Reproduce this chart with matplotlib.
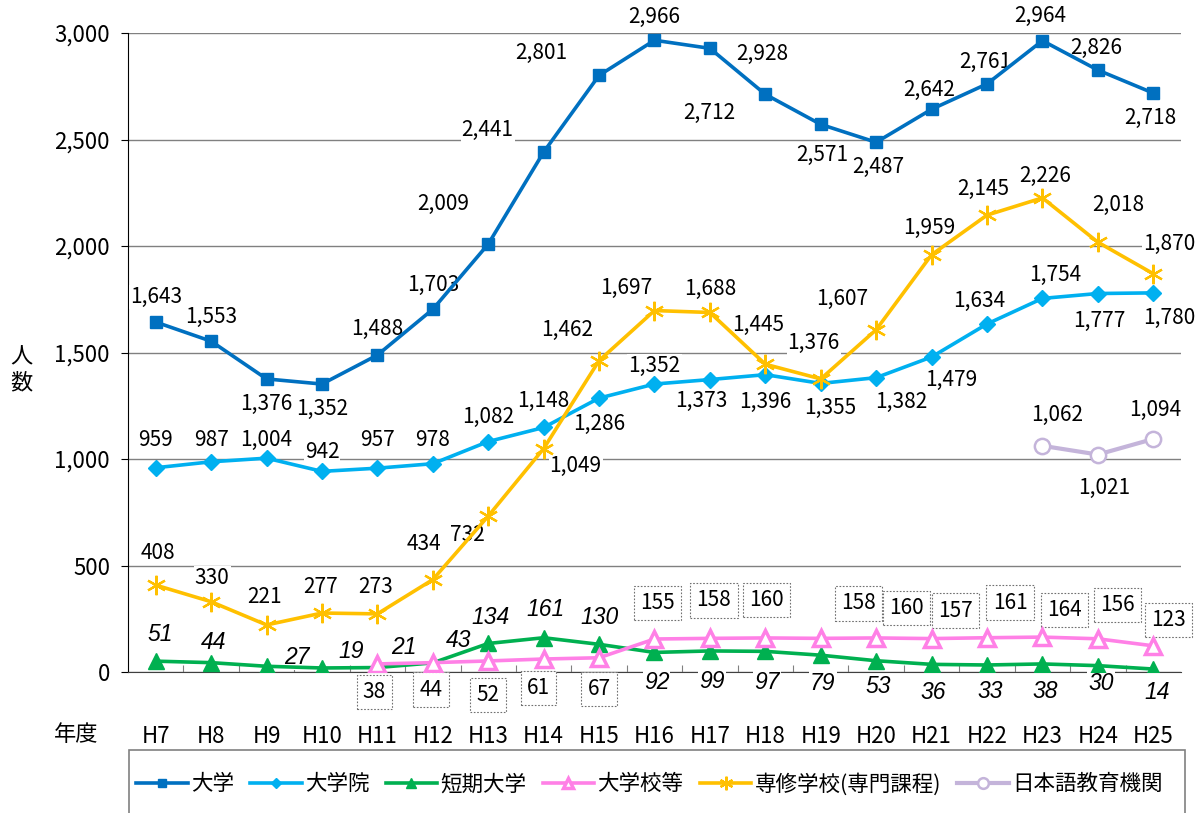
import matplotlib.pyplot as plt
from matplotlib.patches import Rectangle

plt.rcParams['font.family'] = ['Noto Sans CJK JP', 'DejaVu Sans']

years = ["H7", "H8", "H9", "H10", "H11", "H12", "H13", "H14", "H15", "H16",
         "H17", "H18", "H19", "H20", "H21", "H22", "H23", "H24", "H25"]

daigaku = [1643, 1553, 1376, 1352, 1488, 1703, 2009, 2441, 2801, 2966,
           2928, 2712, 2571, 2487, 2642, 2761, 2964, 2826, 2718]
daigakuin = [959, 987, 1004, 942, 957, 978, 1082, 1148, 1286, 1352,
             1373, 1396, 1355, 1382, 1479, 1634, 1754, 1777, 1780]
tanki = [51, 44, 27, 19, 21, 43, 134, 161, 130, 92,
         99, 97, 79, 53, 36, 33, 38, 30, 14]
# 大学校等 starts at H11
daigakko_years = years[4:]
daigakko = [38, 44, 52, 61, 67, 155, 158, 160, 158, 160, 157, 161, 164, 156, 123]
senshu = [408, 330, 221, 277, 273, 434, 732, 1049, 1462, 1697,
          1688, 1445, 1376, 1607, 1959, 2145, 2226, 2018, 1870]
# 日本語教育機関 starts at H23
nihongo_years = years[16:]
nihongo = [1062, 1021, 1094]

# label offsets in pixels (dx, dy)
off_daigaku = [(0, 25), (0, 24), (0, -25), (0, -25), (0, 26), (0, 24), (-45, 40),
               (-56, 22), (-58, 22), (0, 23), (52, -6), (-56, -19), (2, -31),
               (2, -25), (-2, 19), (-2, 22), (-2, 25), (-2, 22), (-3, -25)]
off_daigakuin = [(0, 28), (0, 22), (0, 18), (0, 19), (0, 28), (0, 24), (0, 25),
                 (0, 27), (0, -26), (0, 18), (-9, -21), (0, -27), (9, -25),
                 (25, -24), (20, -23), (-8, 23), (13, 23), (1, -27), (16, -25)]
off_tanki = [(5, 27), (2, 20), (30, 9), (29, 16), (26, 20), (26, 22), (2, 26),
             (2, 28), (0, 27), (2, -30), (2, -31), (2, -31), (2, -28), (2, -26),
             (2, -28), (3, -27), (3, -28), (3, -18), (4, -23)]
off_daigakko = [(-3, -28), (-2, -27), (0, -34), (-5, -29), (0, -31), (3, 36),
                (4, 38), (1, 38), (38, 35), (30, 30), (24, 28), (23, 35),
                (22, 27), (20, 34), (15, 26)]
off_senshu = [(2, 32), (1, 24), (-2, 28), (-1, 26), (-2, 27), (-9, 36), (-21, -19),
              (32, -17), (-32, 31), (-28, 23), (0, 24), (-7, 39), (-7, 36),
              (-34, 31), (-2, 27), (-4, 26), (3, 22), (20, 37), (16, 30)]
off_nihongo = [(15, 31), (6, -33), (2, 29)]

fig = plt.figure(figsize=(12.02, 8.13), dpi=100)
ax = fig.add_axes([0.1065, 0.1734, 0.876, 0.786])

x_all = list(range(len(years)))
x_dk = x_all[4:]
x_nh = x_all[16:]

c_dai = "#0070C0"
c_in = "#00B0F0"
c_tan = "#00B050"
c_dk = "#FF80E6"
c_sen = "#FFC000"
c_nh = "#C4B4DA"

ax.plot(x_all, daigaku, color=c_dai, lw=2.6, marker='s', ms=9, label="大学", zorder=5)
ax.plot(x_all, daigakuin, color=c_in, lw=2.6, marker='D', ms=8, label="大学院", zorder=5)
ax.plot(x_all, tanki, color=c_tan, lw=2.6, marker='^', ms=11, label="短期大学", zorder=4)
ax.plot(x_dk, daigakko, color=c_dk, lw=2.6, marker='^', ms=11, mfc='white',
        mec=c_dk, mew=2.5, label="大学校等", zorder=4)
ax.plot(x_all, senshu, color=c_sen, lw=2.6, marker=(6, 2, 0), ms=14, mew=1.6,
        label="専修学校(専門課程)", zorder=5)
ax.plot(x_nh, nihongo, color=c_nh, lw=3, marker='o', ms=11, mfc='white',
        mec=c_nh, mew=1.8, label="日本語教育機関", zorder=5)

lab_box = dict(boxstyle='square,pad=0.05', fc='white', ec='none')


def put_labels(xs, vals, offs, italic=False, boxed=False):
    for xx, v, (dx, dy) in zip(xs, vals, offs):
        if boxed:
            bb = dict(boxstyle='square,pad=0.3', fc='white', ec='#707070',
                      ls=(0, (1.5, 1.5)), lw=0.8)
        else:
            bb = lab_box
        kw = dict(fontsize=15)
        if italic:
            kw = dict(style='italic', family=['Liberation Sans', 'DejaVu Sans'],
                      fontsize=16.5)
        ax.annotate(f"{v:,}", (xx, v), xytext=(dx, dy), textcoords='offset pixels',
                    ha='center', va='center', bbox=bb, zorder=3, **kw)


put_labels(x_all, daigaku, off_daigaku)
put_labels(x_all, daigakuin, off_daigakuin)
put_labels(x_all, tanki, off_tanki, italic=True)
put_labels(x_dk, daigakko, off_daigakko, boxed=True)
put_labels(x_all, senshu, off_senshu)
put_labels(x_nh, nihongo, off_nihongo)

ax.set_xlim(-0.5, len(years) - 0.5)
ax.set_ylim(0, 3000)
ax.set_yticks(range(0, 3001, 500))
ax.set_yticklabels([f"{v:,}" for v in range(0, 3001, 500)], fontsize=16)
ax.yaxis.grid(True, color='#808080', lw=1)
ax.set_axisbelow(True)

ax.set_xticks([i + 0.5 for i in range(len(years) - 1)])
ax.set_xticklabels([])
ax.tick_params(axis='x', which='major', direction='in', length=5, color='#808080')
ax.set_xticks(x_all, minor=True)
ax.set_xticklabels(years, minor=True, fontsize=16)
ax.tick_params(axis='x', which='minor', length=0, pad=38)
ax.tick_params(axis='y', length=5, direction='out', pad=8)

for s in ['top', 'right']:
    ax.spines[s].set_visible(False)
ax.spines['bottom'].set_color('#404040')
ax.spines['left'].set_color('black')

fig.text(0.018, 0.545, "人\n数", fontsize=16, ha='center', va='center', linespacing=1.15)
fig.text(0.063, 0.096, "年度", fontsize=16, ha='center', va='center')

# legend box runs past the bottom edge of the figure
fig.patches.append(Rectangle((129 / 1202, -0.05), (1185 - 129) / 1202,
                             (813 - 750) / 813 + 0.05, transform=fig.transFigure,
                             fill=False, ec='#808080', lw=1.2))
leg = fig.legend(*ax.get_legend_handles_labels(), loc='center left',
                 bbox_to_anchor=(136 / 1202, 1 - 784 / 813), ncol=6,
                 frameon=False, fontsize=15.5, handlelength=2.4,
                 handletextpad=0.15, columnspacing=0.75, borderpad=0,
                 borderaxespad=0, markerscale=0.7)
for t in leg.get_texts():
    if t.get_text() == "短期大学":
        t.set_style('italic')

fig.savefig("out.png", dpi=100)
